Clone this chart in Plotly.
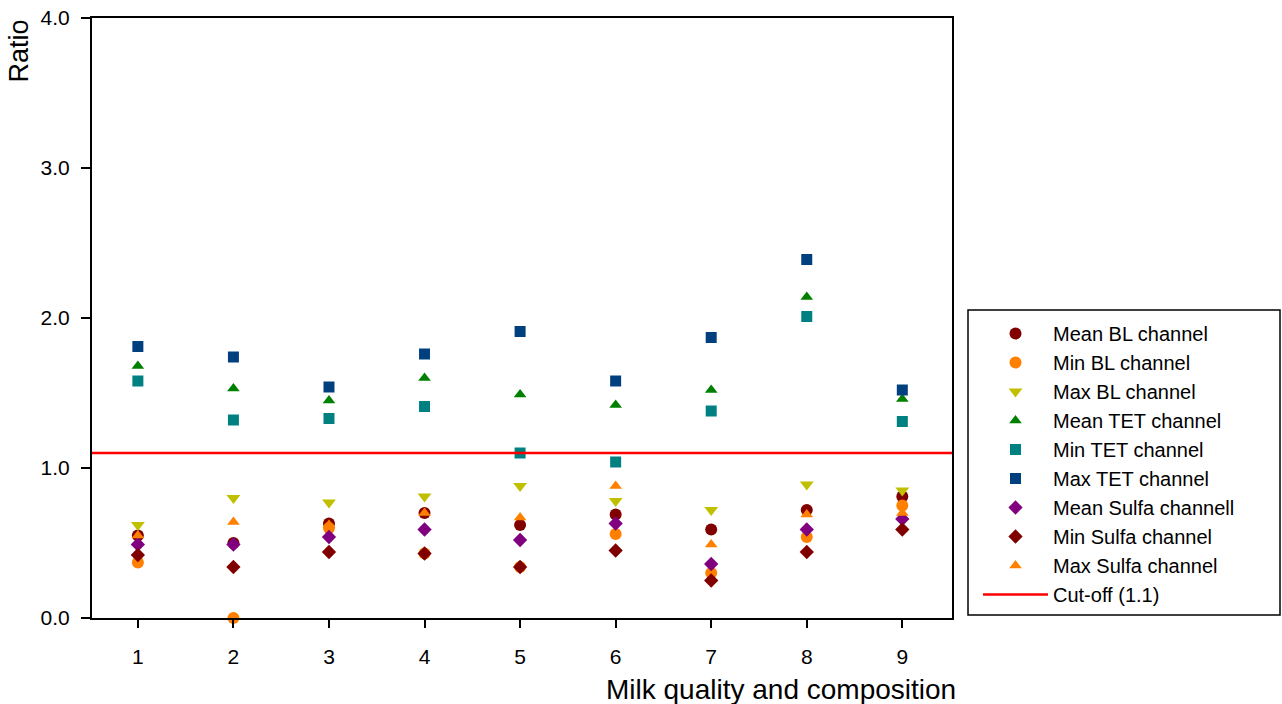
import plotly.graph_objects as go

categories = [1, 2, 3, 4, 5, 6, 7, 8, 9]

mean_bl = [0.55, 0.50, 0.63, 0.70, 0.62, 0.69, 0.59, 0.72, 0.81]
min_bl = [0.37, 0.00, 0.60, 0.43, 0.34, 0.56, 0.30, 0.54, 0.75]
max_bl = [0.62, 0.80, 0.77, 0.81, 0.88, 0.78, 0.72, 0.89, 0.85]
mean_tet = [1.68, 1.53, 1.45, 1.60, 1.49, 1.42, 1.52, 2.14, 1.46]
min_tet = [1.58, 1.32, 1.33, 1.41, 1.10, 1.04, 1.38, 2.01, 1.31]
max_tet = [1.81, 1.74, 1.54, 1.76, 1.91, 1.58, 1.87, 2.39, 1.52]
mean_sulfa = [0.49, 0.49, 0.54, 0.59, 0.52, 0.63, 0.36, 0.59, 0.66]
min_sulfa = [0.42, 0.34, 0.44, 0.43, 0.34, 0.45, 0.25, 0.44, 0.59]
max_sulfa = [0.55, 0.64, 0.62, 0.70, 0.67, 0.88, 0.49, 0.69, 0.70]
cutoff = 1.1

x_range = [0.52, 9.52]
y_ticks = [0.0, 1.0, 2.0, 3.0, 4.0]

series = [
    ("Mean BL channel", mean_bl, "circle", "#800000", 12),
    ("Min BL channel", min_bl, "circle", "#FF8000", 12),
    ("Max BL channel", max_bl, "triangle-down", "#C0C000", 12),
    ("Mean TET channel", mean_tet, "triangle-up", "#008000", 11),
    ("Min TET channel", min_tet, "square", "#008080", 11),
    ("Max TET channel", max_tet, "square", "#00407F", 11),
    ("Mean Sulfa channell", mean_sulfa, "diamond", "#800080", 11),
    ("Min Sulfa channel", min_sulfa, "diamond", "#800000", 11),
    ("Max Sulfa channel", max_sulfa, "triangle-up", "#FF8000", 11),
]

FONT = "Liberation Sans, Arial, sans-serif"

fig = go.Figure()
for name, vals, sym, col, size in series:
    fig.add_trace(go.Scatter(
        x=categories, y=vals, mode="markers", name=name,
        marker=dict(symbol=sym, color=col, size=size, line=dict(width=0)),
        cliponaxis=False,
    ))

fig.add_trace(go.Scatter(
    x=x_range, y=[cutoff, cutoff], mode="lines", name="Cut-off (1.1)",
    line=dict(color="#FF0000", width=2.5),
))

fig.update_layout(
    width=1282, height=704,
    margin=dict(l=92, r=330, t=18, b=86, autoexpand=False),
    paper_bgcolor="white", plot_bgcolor="white",
    font=dict(family=FONT, size=21, color="black"),
    showlegend=True,
    legend=dict(
        x=(978 - 92) / 860, y=(618 - 314) / 600, xanchor="left", yanchor="top",
        bgcolor="rgba(0,0,0,0)", borderwidth=0,
        font=dict(family=FONT, size=20, color="black"),
        itemwidth=65, tracegroupgap=0,
    ),
    xaxis=dict(
        range=x_range, tickmode="array", tickvals=categories,
        ticks="outside", ticklen=8, tickwidth=2, tickcolor="black",
        showline=True, linecolor="black", linewidth=2, mirror=True,
        showgrid=False, zeroline=False, automargin=False,
        ticklabelstandoff=11,
        tickfont=dict(family=FONT, size=21),
    ),
    yaxis=dict(
        range=[0, 4], tickmode="array", tickvals=y_ticks, tickformat=".1f",
        ticks="outside", ticklen=9, tickwidth=2, tickcolor="black",
        showline=True, linecolor="black", linewidth=2, mirror=True,
        showgrid=False, zeroline=False, automargin=False,
        ticklabelstandoff=7,
        tickfont=dict(family=FONT, size=21),
    ),
    shapes=[dict(
        type="rect", xref="paper", yref="paper",
        x0=(968 - 92) / 860, x1=(1280 - 92) / 860,
        y0=(618 - 615) / 600, y1=(618 - 310) / 600,
        line=dict(color="black", width=1.5), fillcolor="rgba(0,0,0,0)",
    )],
    annotations=[
        dict(text="Milk quality and composition", xref="paper", yref="paper",
             x=(958 - 92) / 860, y=(618 - 689) / 600, xanchor="right", yanchor="middle",
             showarrow=False, font=dict(family=FONT, size=28)),
        dict(text="Ratio", xref="paper", yref="paper", textangle=-90,
             x=(18 - 92) / 860, y=1.0, xanchor="center", yanchor="top",
             showarrow=False, font=dict(family=FONT, size=27)),
    ],
)

fig.write_html("out.html")
